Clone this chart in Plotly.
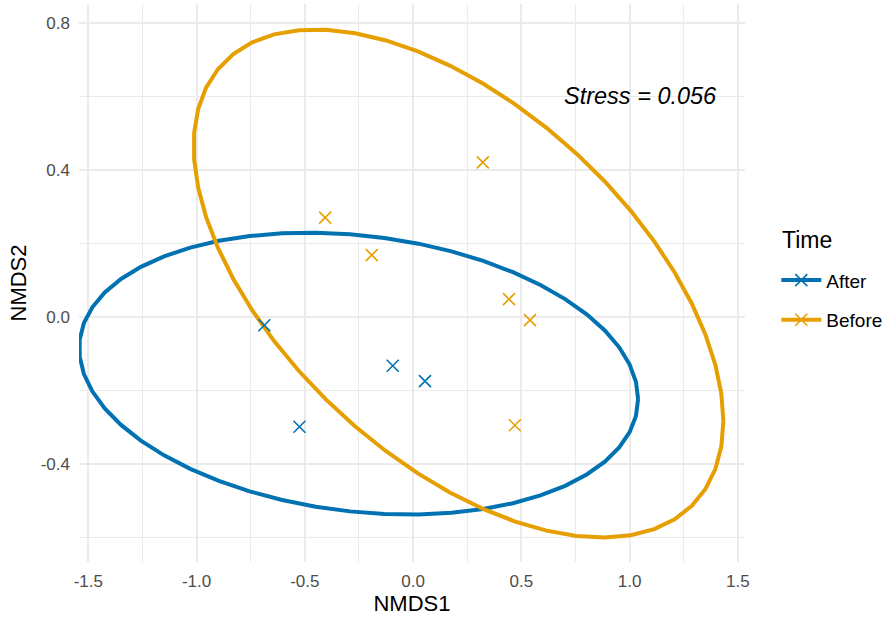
import numpy as np
import plotly.graph_objects as go

# ---- data ----
after_x = [-0.687, -0.525, -0.094, 0.055]
after_y = [-0.023, -0.299, -0.133, -0.175]
before_x = [-0.406, -0.191, 0.322, 0.443, 0.540, 0.470]
before_y = [0.270, 0.168, 0.420, 0.048, -0.009, -0.295]
groups = ["After", "Before"]
colors = {"After": "#0072B2", "Before": "#E69F00"}
x_tickvals = [-1.5, -1.0, -0.5, 0.0, 0.5, 1.0, 1.5]
x_ticktext = ["-1.5", "-1.0", "-0.5", "0.0", "0.5", "1.0", "1.5"]
y_tickvals = [-0.4, 0.0, 0.4, 0.8]
y_ticktext = ["-0.4", "0.0", "0.4", "0.8"]
stress_label = "Stress = 0.056"
legend_title = "Time"


def cov_trob(X, nu=5, maxit=25, tol=0.01):
    n, p = X.shape
    wt = np.ones(n)
    loc = X.mean(axis=0)
    w = np.sqrt(wt)
    Xc = X - loc
    for _ in range(maxit):
        w0 = w
        Xc = X - loc
        _, d, Vt = np.linalg.svd(np.sqrt(w / w.sum())[:, None] * Xc, full_matrices=False)
        wX = Xc @ Vt.T @ np.diag(1.0 / d)
        Q = (wX ** 2).sum(axis=1)
        w = wt * (nu + p) / (nu + Q)
        loc = (w[:, None] * X).sum(axis=0) / w.sum()
        if np.all(np.abs(w - w0) < tol):
            break
    sw = np.sqrt(w)[:, None] * Xc
    cov = sw.T @ sw / wt.sum()
    return cov, loc


def stat_ellipse(x, y, level=0.95, segments=51):
    X = np.column_stack([x, y])
    cov, center = cov_trob(X)
    dfn = 2
    dfd = len(x) - 1
    qf = dfd / 2.0 * ((1 - level) ** (-2.0 / dfd) - 1)
    radius = np.sqrt(dfn * qf)
    ang = np.arange(segments + 1) * 2 * np.pi / segments
    circ = np.column_stack([np.cos(ang), np.sin(ang)])
    R = np.linalg.cholesky(cov).T
    ell = center + radius * (circ @ R)
    return ell[:, 0], ell[:, 1]


data = {"After": (after_x, after_y), "Before": (before_x, before_y)}

fig = go.Figure()
for g in groups:
    gx, gy = data[g]
    ex, ey = stat_ellipse(np.array(gx), np.array(gy))
    fig.add_trace(go.Scatter(x=ex, y=ey, mode="lines",
                             line=dict(color=colors[g], width=4),
                             showlegend=False, hoverinfo="skip"))
for g in groups:
    gx, gy = data[g]
    fig.add_trace(go.Scatter(x=gx, y=gy, mode="markers",
                             marker=dict(symbol="x-thin", size=12,
                                         line=dict(color=colors[g], width=1.6),
                                         color=colors[g]),
                             showlegend=False))
for g in groups:
    fig.add_trace(go.Scatter(x=[None], y=[None], mode="lines+markers", name=g,
                             legendgroup=g,
                             line=dict(color=colors[g], width=4),
                             marker=dict(symbol="x-thin", size=12,
                                         line=dict(color=colors[g], width=1.6))))

FONT = "Liberation Sans, Arial, sans-serif"
fig.add_annotation(x=1.05, y=0.6, text=stress_label, showarrow=False,
                   font=dict(size=23.5, color="black", family=FONT, style="italic"),
                   xanchor="center", yanchor="middle")
fig.add_annotation(xref="paper", yref="paper", x=1.052, y=0.577, text=legend_title,
                   showarrow=False, xanchor="left", yanchor="middle",
                   font=dict(size=23, color="black", family=FONT))

grid_major = "#EBEBEB"
fig.update_layout(
    width=883, height=619,
    margin=dict(l=79, r=138, t=4, b=57, autoexpand=False),
    paper_bgcolor="white", plot_bgcolor="white",
    font=dict(family=FONT, color="black"),
    showlegend=True,
    legend=dict(font=dict(size=19, color="black"),
                x=1.047, y=0.539, xanchor="left", yanchor="top",
                traceorder="grouped", tracegroupgap=12, itemwidth=40,
                bgcolor="rgba(0,0,0,0)"),
    xaxis=dict(range=[-1.543, 1.533], tickmode="array", tickvals=x_tickvals,
               ticktext=x_ticktext, showgrid=True, gridcolor=grid_major, gridwidth=1.6,
               zeroline=False, showline=False, ticks="",
               tickfont=dict(size=17, color="#4D4D4D"), ticklabelstandoff=7,
               minor=dict(dtick=0.25, tick0=0, showgrid=True, gridcolor=grid_major,
                          gridwidth=0.9),
               title=dict(text="NMDS1", font=dict(size=22, color="black"), standoff=4)),
    yaxis=dict(range=[-0.667, 0.851], tickmode="array", tickvals=y_tickvals,
               ticktext=y_ticktext, showgrid=True, gridcolor=grid_major, gridwidth=1.6,
               zeroline=False, showline=False, ticks="",
               tickfont=dict(size=17, color="#4D4D4D"), ticklabelstandoff=8,
               minor=dict(dtick=0.2, tick0=0, showgrid=True, gridcolor=grid_major,
                          gridwidth=0.9),
               title=dict(text="NMDS2", font=dict(size=22, color="black"), standoff=8)),
)

fig.write_html("out.html", config={"displayModeBar": False},
               post_script="document.body.style.margin='0px';")
